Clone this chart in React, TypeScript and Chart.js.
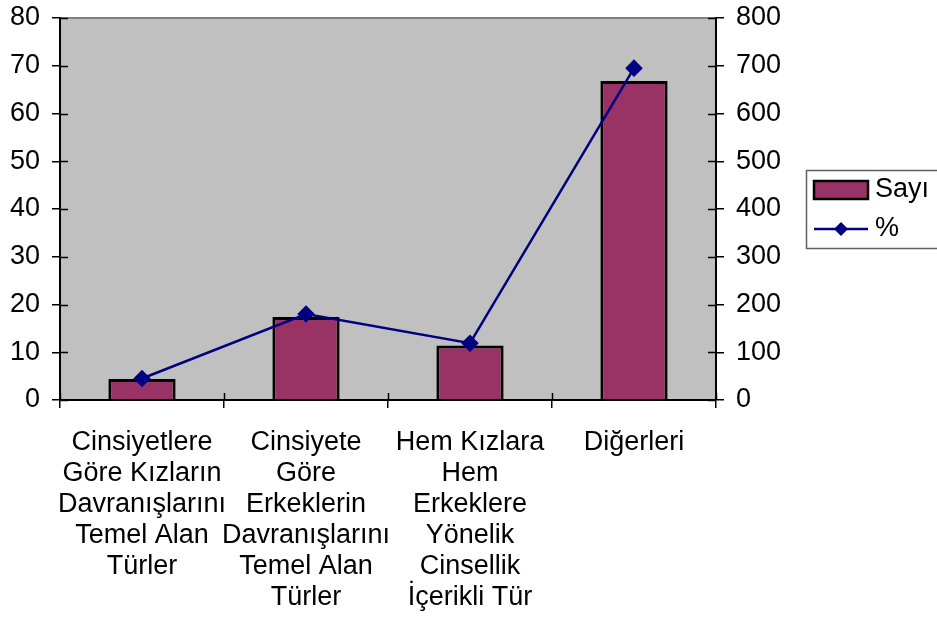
import React, { useEffect, useRef } from "react";
import { Chart, registerables } from "chart.js";

Chart.register(...registerables);

const categories: string[][] = [
  ["Cinsiyetlere", "Göre Kızların", "Davranışlarını", "Temel Alan", "Türler"],
  ["Cinsiyete", "Göre", "Erkeklerin", "Davranışlarını", "Temel Alan", "Türler"],
  ["Hem Kızlara", "Hem", "Erkeklere", "Yönelik", "Cinsellik", "İçerikli Tür"],
  ["Diğerleri"],
];
const sayiValues: number[] = [4.4, 17.4, 11.4, 66.8];
const percentValues: number[] = [45, 180, 119, 695];
const seriesNames: string[] = ["Sayı", "%"];

const FONT = "'Liberation Sans', Arial, sans-serif";
const FONT_SIZE = 27;
const BAR_COLOR = "#993366";
const LINE_COLOR = "#000080";

const plotPlugin = {
  id: "plotDecor",
  beforeDraw(chart: any) {
    const { ctx, chartArea } = chart;
    ctx.save();
    ctx.fillStyle = "#C0C0C0";
    ctx.fillRect(chartArea.left, chartArea.top, chartArea.right - chartArea.left, chartArea.bottom - chartArea.top);
    ctx.strokeStyle = "#808080";
    ctx.lineWidth = 2;
    ctx.beginPath();
    ctx.moveTo(chartArea.left, chartArea.top);
    ctx.lineTo(chartArea.right, chartArea.top);
    ctx.stroke();
    ctx.restore();
  },
  afterDraw(chart: any) {
    const { ctx, chartArea, scales } = chart;
    ctx.save();
    ctx.strokeStyle = "#000";
    ctx.lineWidth = 1.5;
    ctx.beginPath();
    scales.y.ticks.forEach((t: any) => {
      const py = Math.round(scales.y.getPixelForValue(t.value)) + 0.5;
      ctx.moveTo(chartArea.left, py);
      ctx.lineTo(chartArea.left + 8, py);
    });
    scales.y1.ticks.forEach((t: any) => {
      const py = Math.round(scales.y1.getPixelForValue(t.value)) + 0.5;
      ctx.moveTo(chartArea.right - 8, py);
      ctx.lineTo(chartArea.right, py);
    });
    const n = categories.length;
    for (let i = 0; i <= n; i++) {
      const px = Math.round(scales.x.getPixelForValue(i - 0.5)) + 0.5;
      ctx.moveTo(px, chartArea.bottom - 7);
      ctx.lineTo(px, chartArea.bottom);
    }
    ctx.stroke();

    // Legend
    const lx = 806;
    const ly = 170;
    ctx.strokeStyle = "#606060";
    ctx.lineWidth = 1.5;
    ctx.strokeRect(lx + 0.5, ly + 0.5, 150, 78);
    ctx.fillStyle = BAR_COLOR;
    ctx.fillRect(814, 181, 54, 18);
    ctx.strokeStyle = "#000";
    ctx.lineWidth = 2.5;
    ctx.strokeRect(814, 181, 54, 18);
    ctx.strokeStyle = LINE_COLOR;
    ctx.lineWidth = 2.5;
    ctx.beginPath();
    ctx.moveTo(814, 229);
    ctx.lineTo(868, 229);
    ctx.stroke();
    ctx.fillStyle = LINE_COLOR;
    ctx.beginPath();
    ctx.moveTo(841, 222);
    ctx.lineTo(848, 229);
    ctx.lineTo(841, 236);
    ctx.lineTo(834, 229);
    ctx.closePath();
    ctx.fill();
    ctx.fillStyle = "#000";
    ctx.font = `${FONT_SIZE}px ${FONT}`;
    ctx.textBaseline = "middle";
    ctx.textAlign = "left";
    ctx.fillText(seriesNames[0], 875, 190);
    ctx.fillText(seriesNames[1], 875, 229);
    ctx.restore();
  },
};

export default function App() {
  const ref = useRef<HTMLCanvasElement | null>(null);

  useEffect(() => {
    document.body.style.margin = "0";
    if (!ref.current) return;
    const chart = new Chart(ref.current, {
      type: "bar",
      data: {
        labels: categories,
        datasets: [
          {
            type: "bar",
            label: seriesNames[0],
            data: sayiValues,
            yAxisID: "y",
            backgroundColor: BAR_COLOR,
            borderColor: "#000",
            borderWidth: 3,
            barPercentage: 0.41,
            categoryPercentage: 1,
            order: 2,
          },
          {
            type: "line",
            label: seriesNames[1],
            data: percentValues,
            yAxisID: "y1",
            borderColor: LINE_COLOR,
            backgroundColor: LINE_COLOR,
            borderWidth: 2.5,
            pointStyle: "rectRot",
            pointRadius: 7,
            pointBackgroundColor: LINE_COLOR,
            pointBorderColor: LINE_COLOR,
            tension: 0,
            order: 1,
          },
        ],
      } as any,
      options: {
        responsive: false,
        animation: false,
        layout: { padding: { top: 18, right: 131, left: 0, bottom: 0 } },
        plugins: { legend: { display: false }, tooltip: { enabled: false } },
        scales: {
          x: {
            type: "category",
            position: "bottom",
            offset: true,
            grid: { offset: true, drawOnChartArea: false, drawTicks: true, tickLength: 8, color: "#000", lineWidth: 1.5 },
            border: { color: "#000", width: 2 },
            ticks: {
              font: { family: FONT, size: FONT_SIZE, lineHeight: 31 / FONT_SIZE },
              color: "#000",
              maxRotation: 0,
              minRotation: 0,
              autoSkip: false,
              padding: 19,
            },
            afterFit: (s: any) => {
              s.height = 228;
              s.paddingLeft = 0;
              s.paddingRight = 0;
            },
          },
          y: {
            type: "linear",
            position: "left",
            min: 0,
            max: 80,
            grid: { drawOnChartArea: false, drawTicks: true, tickLength: 8, color: "#000", lineWidth: 1.5 },
            border: { color: "#000", width: 2 },
            ticks: { stepSize: 10, font: { family: FONT, size: FONT_SIZE }, color: "#000", padding: 12 },
            afterFit: (s: any) => {
              s.width = 60;
              s.paddingTop = 0;
              s.paddingBottom = 0;
            },
          },
          y1: {
            type: "linear",
            position: "right",
            min: 0,
            max: 800,
            grid: { drawOnChartArea: false, drawTicks: true, tickLength: 8, color: "#000", lineWidth: 1.5 },
            border: { color: "#000", width: 2 },
            ticks: { stepSize: 100, font: { family: FONT, size: FONT_SIZE }, color: "#000", padding: 12 },
            afterFit: (s: any) => {
              s.width = 90;
              s.paddingTop = 0;
              s.paddingBottom = 0;
            },
          },
        },
      } as any,
      plugins: [plotPlugin],
    });
    return () => chart.destroy();
  }, []);

  return <canvas ref={ref} width={937} height={628} style={{ display: "block" }} />;
}
